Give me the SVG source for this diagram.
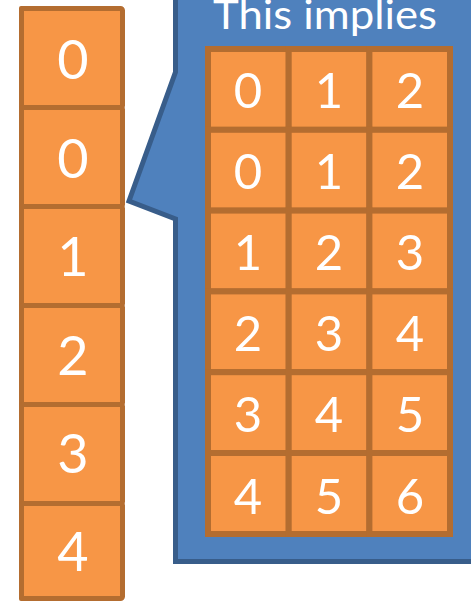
<svg xmlns="http://www.w3.org/2000/svg" width="471" height="603" viewBox="0 0 471 603">
<style>
.cell{fill:#F79646;stroke:#B46D30;stroke-width:5}
.gcell{fill:#F79646;stroke:#B46D30;stroke-width:6}
.d{font-family:Lato,"Open Sans",sans-serif;fill:#FFFFFF;text-anchor:middle}
.c{font-size:54px}
.g{font-size:49px}
.callout{fill:#4F81BD;stroke:#385D8A;stroke-width:5;stroke-linejoin:miter}
</style>
<rect width="471" height="603" fill="#FFFFFF"/>
<g id="callout">
<path class="callout" d="M175.5,-10 L175.5,72 L129,201 L175.5,219 L175.5,561.5 L480,561.5 L480,-10 Z"/>
<text class="d" x="325" y="29" font-size="40" textLength="224" lengthAdjust="spacingAndGlyphs">This implies</text>
</g>
<g id="column">
<rect x="19" y="6" width="7" height="595" fill="#B46D30" rx="2"/>
<rect class="cell" x="21.5" y="8.5" width="101" height="99" rx="2"/>
<rect class="cell" x="21.5" y="107.5" width="101" height="99" rx="2"/>
<rect class="cell" x="21.5" y="206.5" width="101" height="99" rx="2"/>
<rect class="cell" x="21.5" y="305.5" width="101" height="99" rx="2"/>
<rect class="cell" x="21.5" y="404.5" width="101" height="99" rx="2"/>
<rect class="cell" x="21.5" y="503.5" width="101" height="95" rx="2"/>
<text class="d c" x="73" y="79">0</text>
<text class="d c" x="73" y="178">0</text>
<text class="d c" x="73" y="276">1</text>
<text class="d c" x="73" y="375">2</text>
<text class="d c" x="73" y="473">3</text>
<text class="d c" x="73" y="571">4</text>
</g>
<g id="grid">
<rect class="gcell" x="208" y="49" width="80.7" height="80.8"/>
<rect class="gcell" x="288.7" y="49" width="80.7" height="80.8"/>
<rect class="gcell" x="369.4" y="49" width="80.6" height="80.8"/>
<rect class="gcell" x="208" y="129.8" width="80.7" height="80.8"/>
<rect class="gcell" x="288.7" y="129.8" width="80.7" height="80.8"/>
<rect class="gcell" x="369.4" y="129.8" width="80.6" height="80.8"/>
<rect class="gcell" x="208" y="210.6" width="80.7" height="80.8"/>
<rect class="gcell" x="288.7" y="210.6" width="80.7" height="80.8"/>
<rect class="gcell" x="369.4" y="210.6" width="80.6" height="80.8"/>
<rect class="gcell" x="208" y="291.4" width="80.7" height="80.8"/>
<rect class="gcell" x="288.7" y="291.4" width="80.7" height="80.8"/>
<rect class="gcell" x="369.4" y="291.4" width="80.6" height="80.8"/>
<rect class="gcell" x="208" y="372.2" width="80.7" height="80.8"/>
<rect class="gcell" x="288.7" y="372.2" width="80.7" height="80.8"/>
<rect class="gcell" x="369.4" y="372.2" width="80.6" height="80.8"/>
<rect class="gcell" x="208" y="453" width="80.7" height="81"/>
<rect class="gcell" x="288.7" y="453" width="80.7" height="81"/>
<rect class="gcell" x="369.4" y="453" width="80.6" height="81"/>
<text class="d g" x="248" y="108">0</text><text class="d g" x="329" y="108">1</text><text class="d g" x="410" y="108">2</text>
<text class="d g" x="248" y="189">0</text><text class="d g" x="329" y="189">1</text><text class="d g" x="410" y="189">2</text>
<text class="d g" x="248" y="270">1</text><text class="d g" x="329" y="270">2</text><text class="d g" x="410" y="270">3</text>
<text class="d g" x="248" y="351">2</text><text class="d g" x="329" y="351">3</text><text class="d g" x="410" y="351">4</text>
<text class="d g" x="248" y="432">3</text><text class="d g" x="329" y="432">4</text><text class="d g" x="410" y="432">5</text>
<text class="d g" x="248" y="514">4</text><text class="d g" x="329" y="514">5</text><text class="d g" x="410" y="514">6</text>
</g>
</svg>
